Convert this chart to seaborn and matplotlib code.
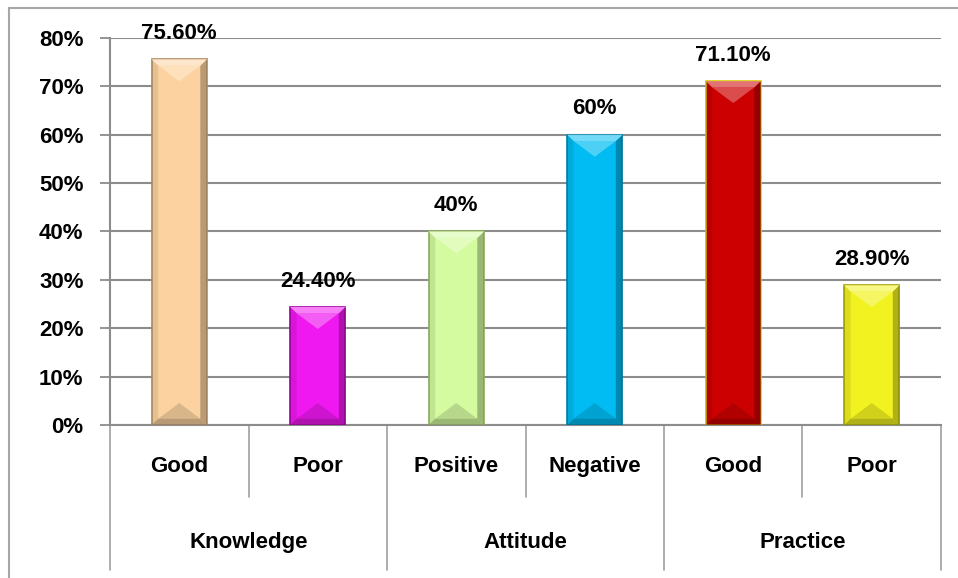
import numpy as np
import pandas as pd
import matplotlib.pyplot as plt
import matplotlib.colors as mcolors
from matplotlib.patches import Polygon
from matplotlib.lines import Line2D
from matplotlib.ticker import PercentFormatter
import seaborn as sns

groups = ['Knowledge', 'Attitude', 'Practice']
levels = ['Good', 'Poor', 'Positive', 'Negative', 'Good', 'Poor']
group_of = ['Knowledge', 'Knowledge', 'Attitude', 'Attitude', 'Practice', 'Practice']
values = [75.6, 24.4, 40.0, 60.0, 71.1, 28.9]
value_labels = ['75.60%', '24.40%', '40%', '60%', '71.10%', '28.90%']
colors = ['#FCD3A0', '#F018F0', '#D4FBA0', '#00BCF2', '#CC0000', '#F2F220']
edges = ['#B08A60', '#A000A0', '#90B060', '#0080A8', '#D8D000', '#A0A000']

df = pd.DataFrame({'slot': [f'{g}-{l}' for g, l in zip(group_of, levels)],
                   'value': values})

sns.set_theme(style='white')
plt.rcParams['font.family'] = ['Liberation Sans', 'DejaVu Sans']
plt.rcParams['font.weight'] = 'bold'
plt.rcParams['text.color'] = 'black'
plt.rcParams['ytick.color'] = 'black'

FS = 16

fig = plt.figure(figsize=(9.58, 5.78), dpi=100)
ax = fig.add_axes([110/958, 153/578, 831/958, 387/578])

sns.barplot(data=df, x='slot', y='value', hue='slot', palette=colors,
            width=0.4, saturation=1, legend=False, ax=ax, zorder=3)

# bevel look on each bar
for p, c, e in zip(ax.patches, colors, edges):
    x0, w, h = p.get_x(), p.get_width(), p.get_height()
    p.set_edgecolor(e)
    p.set_linewidth(1.2)
    rgb = np.array(mcolors.to_rgb(c))
    dark = tuple(rgb * 0.55)
    light = tuple(rgb + (1 - rgb) * 0.5)
    s = w * 0.12
    t = 1.3
    ax.add_patch(Polygon([[x0 + w - s, t], [x0 + w, 0], [x0 + w, h], [x0 + w - s, h - t]],
                         closed=True, fc=dark, ec='none', alpha=0.6, zorder=4))
    ax.add_patch(Polygon([[x0, 0], [x0 + s, t], [x0 + s, h - t], [x0, h]],
                         closed=True, fc=dark, ec='none', alpha=0.2, zorder=4))
    ax.add_patch(Polygon([[x0, h], [x0 + s, h - t], [x0 + w - s, h - t], [x0 + w, h]],
                         closed=True, fc=light, ec='none', alpha=0.9, zorder=4))
    ax.add_patch(Polygon([[x0 + s, h - t], [x0 + w - s, h - t], [x0 + w / 2, h - t * 3.5]],
                         closed=True, fc=light, ec='none', alpha=0.6, zorder=4))
    ax.add_patch(Polygon([[x0, 0], [x0 + s, t], [x0 + w - s, t], [x0 + w, 0]],
                         closed=True, fc=dark, ec='none', alpha=0.6, zorder=4))
    ax.add_patch(Polygon([[x0 + s, t], [x0 + w - s, t], [x0 + w / 2, t * 3.5]],
                         closed=True, fc=dark, ec='none', alpha=0.3, zorder=4))

for i, (v, lab) in enumerate(zip(values, value_labels)):
    ax.annotate(lab, (i, v), xytext=(0, 11), textcoords='offset points',
                ha='center', va='bottom', fontsize=FS, fontweight='bold',
                color='black', zorder=5, annotation_clip=False)

ax.set_ylim(0, 80)
ax.set_xlim(-0.5, 5.5)
ax.set_yticks(np.arange(0, 81, 10))
ax.yaxis.set_major_formatter(PercentFormatter(decimals=0))
ax.grid(axis='y', color='#8C8C8C', linewidth=1.5, zorder=0)
ax.set_axisbelow(True)
ax.tick_params(axis='y', length=7, width=1.3, color='#8C8C8C', left=True,
               labelsize=FS, pad=12, labelcolor='black')
for lab in ax.get_yticklabels():
    lab.set_fontweight('bold')
ax.set_xticks([])
ax.set_xlabel('')
ax.set_ylabel('')
for side in ['top', 'right']:
    ax.spines[side].set_visible(False)
ax.spines['left'].set_color('#8C8C8C')
ax.spines['left'].set_linewidth(1.5)
ax.spines['bottom'].set_color('#8C8C8C')
ax.spines['bottom'].set_linewidth(1.5)

# two-level category axis
tr = ax.get_xaxis_transform()
for i, lab in enumerate(levels):
    ax.text(i, -0.106, lab, transform=tr, ha='center', va='center',
            fontsize=FS, fontweight='bold', color='black')
for b in [0.5, 2.5, 4.5]:
    ax.add_line(Line2D([b, b], [0, -0.186], transform=tr, color='#A0A0A0',
                       linewidth=1.2, clip_on=False))
for b in [-0.5, 1.5, 3.5, 5.5]:
    ax.add_line(Line2D([b, b], [0, -0.375], transform=tr, color='#A0A0A0',
                       linewidth=1.2, clip_on=False))
for j, g in enumerate(groups):
    ax.text(2 * j + 0.5, -0.303, g, transform=tr, ha='center', va='center',
            fontsize=FS, fontweight='bold', color='black')

# chart frame
fig.add_artist(Line2D([9/958, 9/958], [0, 1 - 8/578], color='#A6A6A6', linewidth=1.5))
fig.add_artist(Line2D([9/958, 1], [1 - 8/578, 1 - 8/578], color='#A6A6A6', linewidth=1.5))

fig.savefig('out.png', dpi=100)
